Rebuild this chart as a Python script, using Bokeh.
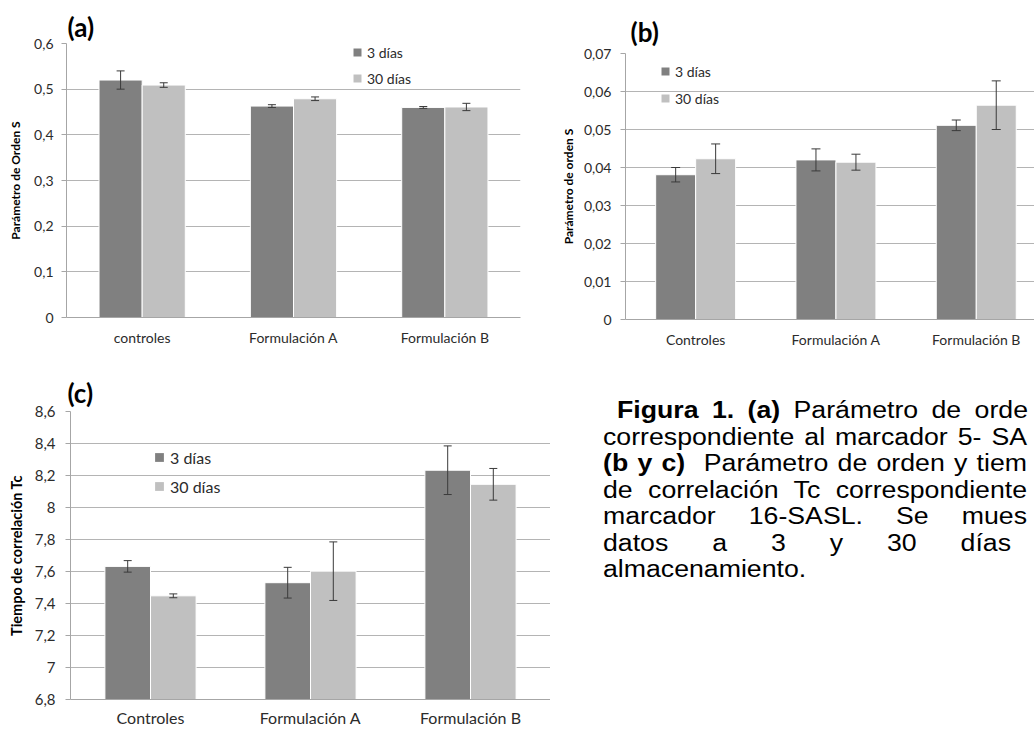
import numpy as np
from bokeh.plotting import figure
from bokeh.models import (Range1d, FixedTicker, CustomJSTickFormatter, Legend, LegendItem,
                          Whisker, TeeHead, ColumnDataSource, Div, Spacer)
from bokeh.layouts import row, column
from bokeh.embed import file_html
from bokeh.resources import INLINE

# ---------------- data ----------------
series = ["3 días", "30 días"]

cats_a = ["controles", "Formulación A", "Formulación B"]
a_3 = [0.520, 0.463, 0.460]
a_3_err = [0.020, 0.003, 0.002]
a_30 = [0.509, 0.479, 0.461]
a_30_err = [0.005, 0.004, 0.008]
yticks_a = [0, 0.1, 0.2, 0.3, 0.4, 0.5, 0.6]

cats_b = ["Controles", "Formulación A", "Formulación B"]
b_3 = [0.0381, 0.0420, 0.0511]
b_3_err = [0.0019, 0.0029, 0.0014]
b_30 = [0.0423, 0.0414, 0.0564]
b_30_err = [0.0039, 0.0021, 0.0064]
yticks_b = [0, 0.01, 0.02, 0.03, 0.04, 0.05, 0.06, 0.07]

cats_c = ["Controles", "Formulación A", "Formulación B"]
c_3 = [7.632, 7.530, 8.233]
c_3_err = [0.036, 0.096, 0.152]
c_30 = [7.448, 7.602, 8.145]
c_30_err = [0.012, 0.183, 0.099]
yticks_c = [6.8, 7.0, 7.2, 7.4, 7.6, 7.8, 8.0, 8.2, 8.4, 8.6]

# caption lines as visible in the figure (bold part, regular part)
caption = [
    ("Figura 1. (a)", " Parámetro de orde"),
    ("", "correspondiente al marcador 5- SA"),
    ("(b y c)", "&nbsp; Parámetro de orden y tiem"),
    ("", "de correlación Tc correspondiente"),
    ("", "marcador 16-SASL. Se mues"),
    ("", "datos a 3 y 30 días"),
    ("", "almacenamiento."),
]

DARK = "#808080"
LIGHT = "#c0c0c0"
GRID = "#b4b4b4"
AXIS = "#a6a6a6"
TXT = "#2b2b2b"
ERR = "#3a3a3a"
FONT = "Lato"

fmt = CustomJSTickFormatter(code="return String(Number(tick.toFixed(3))).replace('.', ',');")


def panel(title, cats, v3, e3, v30, e30, yticks, ylabel, width, height,
          bl, br, bt, bb, xend, title_offset, title_standoff, leg_loc, gbox, spacing,
          fs_tick, fs_cat, fs_leg, fs_ylab, fs_title, cap,
          lab_standoff, ylab_standoff, cat_standoff):
    p = figure(width=width, height=height, output_backend="svg", toolbar_location=None,
               min_border_left=bl, min_border_right=br, min_border_top=bt, min_border_bottom=bb,
               x_range=Range1d(0, xend), y_range=Range1d(yticks[0], yticks[-1]))
    p.outline_line_color = None
    p.background_fill_color = "white"
    p.border_fill_color = "white"

    n = len(cats)
    centers = [i + 0.5 for i in range(n)]
    bw = 0.285
    x3 = [c - bw / 2 for c in centers]
    x30 = [c + bw / 2 for c in centers]
    base = yticks[0]

    src3 = ColumnDataSource(dict(x=x3, top=v3, up=[v + e for v, e in zip(v3, e3)],
                                 lo=[v - e for v, e in zip(v3, e3)]))
    src30 = ColumnDataSource(dict(x=x30, top=v30, up=[v + e for v, e in zip(v30, e30)],
                                  lo=[v - e for v, e in zip(v30, e30)]))
    p.vbar(x="x", top="top", bottom=base, width=bw, source=src3,
           fill_color=DARK, line_color="white", line_width=1)
    p.vbar(x="x", top="top", bottom=base, width=bw, source=src30,
           fill_color=LIGHT, line_color="white", line_width=1)
    for s in (src3, src30):
        w = Whisker(base="x", upper="up", lower="lo", source=s, line_color=ERR, line_width=1,
                    level="overlay",
                    upper_head=TeeHead(size=cap, line_color=ERR, line_width=1),
                    lower_head=TeeHead(size=cap, line_color=ERR, line_width=1))
        p.add_layout(w)

    # legend proxies (square markers, not drawn in the frame)
    nan = np.array([np.nan])
    g3 = p.scatter(x=np.array([centers[0]]), y=nan, marker="square", size=8,
                   fill_color=DARK, line_color=None)
    g30 = p.scatter(x=np.array([centers[0]]), y=nan, marker="square", size=8,
                    fill_color=LIGHT, line_color=None)

    # axes
    p.xaxis.ticker = FixedTicker(ticks=centers)
    p.xaxis.major_label_overrides = {c: name for c, name in zip(centers, cats)}
    p.xaxis.major_tick_line_color = None
    p.xaxis.major_tick_out = 0
    p.xaxis.major_tick_in = 0
    p.xaxis.minor_tick_line_color = None
    p.xaxis.axis_line_color = AXIS
    p.xaxis.major_label_text_font = FONT
    p.xaxis.major_label_text_font_size = fs_cat
    p.xaxis.major_label_text_color = TXT
    p.xaxis.major_label_standoff = cat_standoff

    p.yaxis.ticker = FixedTicker(ticks=yticks)
    p.yaxis.formatter = fmt
    p.yaxis.axis_line_color = AXIS
    p.yaxis.major_tick_line_color = AXIS
    p.yaxis.major_tick_out = 5
    p.yaxis.major_tick_in = 0
    p.yaxis.minor_tick_line_color = None
    p.yaxis.major_label_text_font = FONT
    p.yaxis.major_label_text_font_size = fs_tick
    p.yaxis.major_label_text_color = TXT
    p.yaxis.major_label_standoff = lab_standoff
    p.yaxis.axis_label = ylabel
    p.yaxis.axis_label_text_font = FONT
    p.yaxis.axis_label_text_font_style = "bold"
    p.yaxis.axis_label_text_font_size = fs_ylab
    p.yaxis.axis_label_text_color = "#000000"
    p.yaxis.axis_label_standoff = ylab_standoff

    p.xgrid.grid_line_color = None
    p.ygrid.ticker = FixedTicker(ticks=yticks)
    p.ygrid.grid_line_color = GRID
    p.ygrid.grid_line_width = 1

    p.title.text = title
    p.title.align = "left"
    p.title.offset = title_offset
    p.title.standoff = title_standoff
    p.title.text_font = FONT
    p.title.text_font_size = fs_title
    p.title.text_font_style = "bold"
    p.title.text_color = "#000000"

    leg = Legend(items=[LegendItem(label=series[0], renderers=[g3]),
                        LegendItem(label=series[1], renderers=[g30])],
                 location=leg_loc, orientation="vertical",
                 glyph_width=gbox, glyph_height=gbox, label_height=gbox,
                 spacing=spacing, padding=0, margin=0, label_standoff=0,
                 border_line_color=None, background_fill_alpha=0,
                 label_text_font=FONT, label_text_font_size=fs_leg,
                 label_text_color=TXT)
    p.add_layout(leg)
    return p


pa = panel("(a)", cats_a, a_3, a_3_err, a_30, a_30_err, yticks_a, "Parámetro de Orden S",
           540, 360, 66, 20, 43, 43, 3.0, 1, 2, (281, 229), 20, 6,
           "14px", "14px", "14px", "12px", "26px", 8, 8, 8, 11)
pb = panel("(b)", cats_b, b_3, b_3_err, b_30, b_30_err, yticks_b, "Parámetro de orden S",
           494, 352, 85, 0, 43, 41, 409 / 140.3, 5, 11, (30, 211), 20, 7,
           "14px", "14px", "14px", "12px", "26px", 9, 9, 5, 11)
pc = panel("(c)", cats_c, c_3, c_3_err, c_30, c_30_err, yticks_c, "Tiempo de correlación Tc",
           550, 369, 70, 0, 51, 28, 3.0, -3, 5, (78, 202), 22, 7,
           "15px", "16px", "16px", "14.5px", "26px", 8, 10, 7, 8)

# caption: each visible line justified to the width it spans in the figure
SCALE = 1.16
line_span = [(14, 411), (0, 424), (0, 424), (0, 424), (0, 424), (0, 408), (0, None)]
parts = []
for (bold, rest), (ml, span) in zip(caption, line_span):
    txt = (f"<b>{bold}</b>" if bold else "") + rest
    if span is None:
        style = f"margin-left:{ml / SCALE:.2f}px;white-space:nowrap;"
    else:
        style = (f"margin-left:{ml / SCALE:.2f}px;width:{span / SCALE:.2f}px;white-space:nowrap;"
                 "text-align:justify;text-align-last:justify;")
    parts.append(f'<div style="{style}">{txt}</div>')
cap_html = (
    '<div style="width:484px;height:369px;overflow:hidden;box-sizing:border-box;'
    'padding-left:48px;padding-top:32px;">'
    f'<div style="transform:scaleX({SCALE});transform-origin:0 0;width:370px;'
    'font-family:\'Liberation Sans\',Arial,sans-serif;font-size:23px;line-height:26.5px;color:#000;">'
    + "".join(parts) + '</div></div>')
cap = Div(text=cap_html, width=484, height=369, styles={"overflow": "hidden"})

layout = column(row(pa, column(Spacer(width=494, height=8), pb)), row(pc, cap))

with open("out.html", "w") as f:
    f.write(file_html(layout, INLINE))
